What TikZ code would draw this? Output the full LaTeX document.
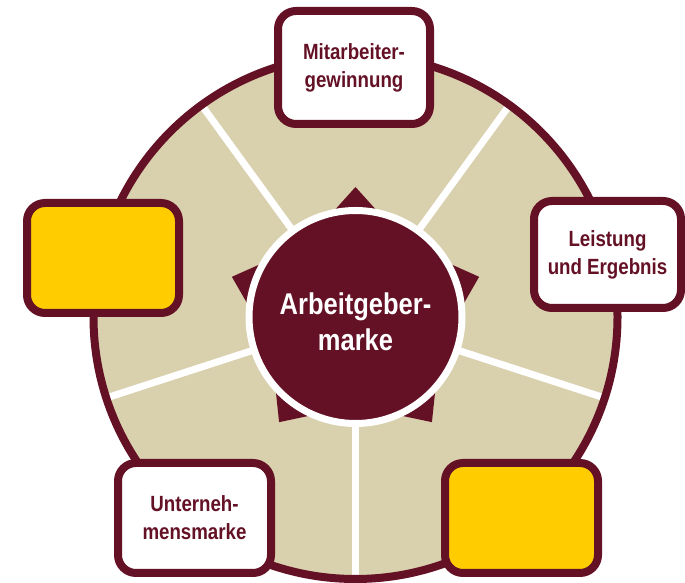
\documentclass[tikz,border=0pt]{standalone}
\usepackage{fontspec}
\usetikzlibrary{calc}
\newfontfamily\condfont[FakeStretch=0.85]{Liberation Sans}
\definecolor{maroon}{RGB}{100,17,37}
\definecolor{sand}{RGB}{217,208,174}
\definecolor{gold}{RGB}{255,204,0}
\tikzset{
  boxnode/.style={draw=maroon, line width=8pt, rounded corners=18pt, minimum width=152pt, minimum height=110pt, inner sep=0pt, align=center, text=maroon, font=\condfont\bfseries\fontsize{22}{28}\selectfont},
  divider/.style={draw=white, line width=7pt},
}
\begin{document}
\begin{tikzpicture}[x=1pt,y=1pt]
\useasboundingbox (0,0) rectangle (685,583);
\coordinate (C) at (355.5,266);
% outer disc
\fill[sand] (C) circle[radius=262pt];
% dividers
\foreach \a/\n in {54/d1,126/d2,198/d3,270/d4,342/d5}{
  \coordinate (\n) at ($(C)+(\a:262pt)$);
  \draw[divider] (C) -- (\n);
}
\draw[maroon, line width=8pt] (C) circle[radius=262pt];
% star
\fill[maroon] ($(C)+(90:130pt)$) -- ($(C)+(126:89pt)$) -- ($(C)+(162:130pt)$) -- ($(C)+(198:89pt)$) -- ($(C)+(234:130pt)$) -- ($(C)+(270:89pt)$) -- ($(C)+(306:130pt)$) -- ($(C)+(342:89pt)$) -- ($(C)+(18:130pt)$) -- ($(C)+(54:89pt)$) -- cycle;
% centre
\node[circle, fill=maroon, draw=white, line width=7pt, minimum size=213pt, inner sep=0pt] (core) at (C) {};
\node[text=white, align=center, font=\condfont\bfseries\fontsize{30}{36}\selectfont] (coretext) at (355.5,261) {Arbeitgeber-\\marke};
% boxes
\node[boxnode, fill=white, minimum height=113pt] (top) at (354,515.5) {Mitarbeiter-\\gewinnung};
\node[boxnode, fill=white, minimum width=147pt, minimum height=107pt] (right) at (607.5,328.5) {Leistung\\und Ergebnis};
\node[boxnode, fill=gold] (left) at (103,325) {};
\node[boxnode, fill=white, minimum width=153pt] (botleft) at (194.5,65) {Unterneh-\\mensmarke};
\node[boxnode, fill=gold, minimum width=153pt] (botright) at (521.5,65) {};
\end{tikzpicture}
\end{document}
